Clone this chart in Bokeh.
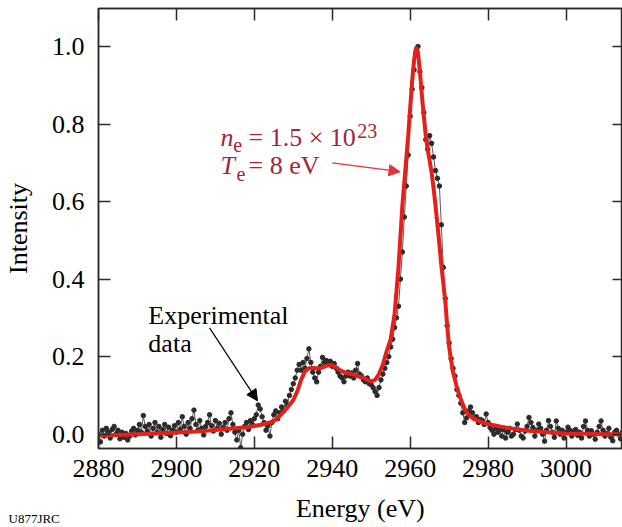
from bokeh.plotting import figure
from bokeh.models import (Range1d, LinearAxis, FixedTicker, Label, Arrow,
                          NormalHead, ColumnDataSource, PrintfTickFormatter)
from bokeh.embed import file_html
from bokeh.resources import INLINE

# ---------------- data ----------------
exp_energy = [
    2880.0, 2880.5, 2881.0, 2881.5, 2882.0, 2882.5, 2883.0, 2883.5, 2884.0, 2884.5,
    2885.0, 2885.5, 2886.0, 2886.5, 2887.0, 2887.5, 2888.0, 2888.5, 2889.0, 2889.5,
    2890.0, 2890.5, 2891.0, 2891.5, 2892.0, 2892.5, 2893.0, 2893.5, 2894.0, 2894.5,
    2895.0, 2895.5, 2896.0, 2896.5, 2897.0, 2897.5, 2898.0, 2898.5, 2899.0, 2899.5,
    2900.0, 2900.5, 2901.0, 2901.5, 2902.0, 2902.5, 2903.0, 2903.5, 2904.0, 2904.5,
    2905.0, 2905.5, 2906.0, 2906.5, 2907.0, 2907.5, 2908.0, 2908.5, 2909.0, 2909.5,
    2910.0, 2910.5, 2911.0, 2911.5, 2912.0, 2912.5, 2913.0, 2913.5, 2914.0, 2914.5,
    2915.0, 2915.5, 2916.0, 2916.5, 2917.0, 2917.5, 2918.0, 2918.5, 2919.0, 2919.5,
    2920.0, 2920.5, 2921.0, 2921.5, 2922.0, 2922.5, 2923.0, 2923.5, 2924.0, 2924.5,
    2925.0, 2925.5, 2926.0, 2926.5, 2927.0, 2927.5, 2928.0, 2928.5, 2929.0, 2929.5,
    2930.0, 2930.5, 2931.0, 2931.5, 2932.0, 2932.5, 2933.0, 2933.5, 2934.0, 2934.5,
    2935.0, 2935.5, 2936.0, 2936.5, 2937.0, 2937.5, 2938.0, 2938.5, 2939.0, 2939.5,
    2940.0, 2940.5, 2941.0, 2941.5, 2942.0, 2942.5, 2943.0, 2943.5, 2944.0, 2944.5,
    2945.0, 2945.5, 2946.0, 2946.5, 2947.0, 2947.5, 2948.0, 2948.5, 2949.0, 2949.5,
    2950.0, 2950.5, 2951.0, 2951.5, 2952.0, 2952.5, 2953.0, 2953.5, 2954.0, 2954.5,
    2955.0, 2955.5, 2956.0, 2956.5, 2957.0, 2957.5, 2958.0, 2958.5, 2959.0, 2959.5,
    2960.0, 2960.5, 2961.0, 2961.5, 2962.0, 2962.5, 2963.0, 2963.5, 2964.0, 2964.5,
    2965.0, 2965.5, 2966.0, 2966.5, 2967.0, 2967.5, 2968.0, 2968.5, 2969.0, 2969.5,
    2970.0, 2970.5, 2971.0, 2971.5, 2972.0, 2972.5, 2973.0, 2973.5, 2974.0, 2974.5,
    2975.0, 2975.5, 2976.0, 2976.5, 2977.0, 2977.5, 2978.0, 2978.5, 2979.0, 2979.5,
    2980.0, 2980.5, 2981.0, 2981.5, 2982.0, 2982.5, 2983.0, 2983.5, 2984.0, 2984.5,
    2985.0, 2985.5, 2986.0, 2986.5, 2987.0, 2987.5, 2988.0, 2988.5, 2989.0, 2989.5,
    2990.0, 2990.5, 2991.0, 2991.5, 2992.0, 2992.5, 2993.0, 2993.5, 2994.0, 2994.5,
    2995.0, 2995.5, 2996.0, 2996.5, 2997.0, 2997.5, 2998.0, 2998.5, 2999.0, 2999.5,
    3000.0, 3000.5, 3001.0, 3001.5, 3002.0, 3002.5, 3003.0, 3003.5, 3004.0, 3004.5,
    3005.0, 3005.5, 3006.0, 3006.5, 3007.0, 3007.5, 3008.0, 3008.5, 3009.0, 3009.5,
    3010.0, 3010.5, 3011.0, 3011.5, 3012.0, 3012.5, 3013.0, 3013.5, 3014.0, 3014.5,
]
exp_intensity = [
    0.000, -0.020, 0.010, -0.005, 0.015, 0.005, -0.010, 0.012, 0.020, 0.000,
    0.010, -0.012, 0.005, -0.008, 0.002, -0.015, -0.005, 0.008, 0.015, -0.002,
    0.010, 0.025, 0.005, 0.048, 0.020, 0.008, 0.025, -0.005, 0.015, 0.030,
    0.005, 0.020, -0.008, 0.012, 0.025, 0.002, 0.018, -0.004, 0.010, 0.022,
    0.005, 0.030, 0.012, 0.045, 0.020, 0.000, 0.030, 0.015, 0.040, 0.062,
    0.025, 0.010, 0.035, 0.015, -0.002, 0.020, 0.030, 0.050, 0.022, 0.008,
    0.035, 0.015, 0.028, 0.000, 0.018, 0.030, 0.010, 0.040, 0.055, 0.025,
    0.005, -0.015, 0.010, -0.035, 0.000, 0.020, 0.030, 0.012, 0.035, 0.025,
    0.040, 0.050, 0.075, 0.065, 0.045, 0.030, 0.010, 0.022, -0.005, 0.030,
    0.050, 0.060, 0.040, 0.055, 0.070, 0.060, 0.085, 0.075, 0.100, 0.115,
    0.130, 0.145, 0.165, 0.180, 0.165, 0.185, 0.170, 0.195, 0.220, 0.185,
    0.160, 0.145, 0.135, 0.160, 0.175, 0.198, 0.185, 0.190, 0.180, 0.188,
    0.175, 0.182, 0.170, 0.160, 0.150, 0.145, 0.135, 0.150, 0.160, 0.150,
    0.158, 0.145, 0.165, 0.182, 0.155, 0.150, 0.140, 0.135, 0.145, 0.130,
    0.128, 0.120, 0.110, 0.100, 0.120, 0.140, 0.155, 0.170, 0.185, 0.200,
    0.225, 0.245, 0.275, 0.300, 0.330, 0.400, 0.470, 0.560, 0.640, 0.720,
    0.820, 0.890, 0.940, 0.985, 1.000, 0.935, 0.894, 0.830, 0.760, 0.735,
    0.770, 0.750, 0.715, 0.680, 0.660, 0.640, 0.540, 0.430, 0.350, 0.280,
    0.235, 0.195, 0.170, 0.150, 0.115, 0.100, 0.080, 0.055, 0.030, 0.042,
    0.060, 0.070, 0.055, 0.040, 0.045, 0.030, 0.038, 0.035, 0.025, 0.052,
    0.030, 0.017, 0.010, 0.000, 0.015, 0.005, 0.010, -0.005, 0.012, -0.010,
    0.005, 0.015, -0.005, 0.000, 0.012, 0.026, 0.010, -0.005, -0.010, 0.008,
    0.020, 0.043, 0.030, 0.017, -0.005, 0.010, 0.026, 0.015, 0.000, -0.018,
    0.010, 0.035, 0.020, 0.005, -0.008, 0.034, 0.015, 0.000, 0.010, -0.010,
    0.005, 0.018, 0.010, -0.005, 0.008, 0.012, -0.003, 0.005, -0.010, 0.020,
    0.034, 0.010, -0.005, 0.009, 0.000, -0.013, 0.005, 0.020, 0.034, 0.010,
    -0.005, 0.002, 0.015, -0.008, -0.017, 0.005, 0.010, 0.000, -0.012, 0.005,
]

fit_energy = [
    2880, 2885, 2890, 2895, 2900, 2905, 2910, 2915, 2918, 2920,
    2922, 2924, 2925, 2926, 2927, 2928, 2929, 2930, 2931, 2932,
    2933, 2934, 2935, 2936, 2937, 2938, 2939, 2940, 2941, 2942,
    2943, 2944, 2945, 2946, 2947, 2948, 2949, 2950, 2951, 2952,
    2953, 2954, 2955, 2956, 2957, 2957.5, 2958, 2958.5, 2959, 2959.5,
    2960, 2960.5, 2961, 2961.5, 2962, 2962.5, 2963, 2963.5, 2964, 2964.5,
    2965, 2965.5, 2966, 2966.5, 2967, 2967.5, 2968, 2968.5, 2969, 2969.5,
    2970, 2970.5, 2971, 2972, 2973, 2974, 2975, 2976, 2978, 2980,
    2983, 2987, 2991, 2996, 3000, 3005, 3010, 3015,
]
fit_intensity = [
    -0.003, -0.002, 0.000, 0.002, 0.004, 0.007, 0.011, 0.015, 0.018, 0.021,
    0.025, 0.030, 0.034, 0.042, 0.052, 0.063, 0.075, 0.088, 0.110, 0.140,
    0.162, 0.170, 0.171, 0.170, 0.170, 0.174, 0.178, 0.178, 0.172, 0.165,
    0.160, 0.157, 0.155, 0.152, 0.148, 0.145, 0.140, 0.136, 0.140, 0.155,
    0.180, 0.215, 0.245, 0.310, 0.430, 0.510, 0.590, 0.650, 0.710, 0.770,
    0.840, 0.910, 0.965, 0.998, 0.985, 0.935, 0.875, 0.820, 0.770, 0.735,
    0.705, 0.675, 0.635, 0.590, 0.540, 0.490, 0.435, 0.390, 0.345, 0.280,
    0.225, 0.190, 0.160, 0.120, 0.090, 0.065, 0.050, 0.042, 0.032, 0.026,
    0.020, 0.013, 0.008, 0.004, 0.002, 0.001, 0.000, 0.000,
]

x_ticks = [2880, 2900, 2920, 2940, 2960, 2980, 3000]
y_ticks = [0.0, 0.2, 0.4, 0.6, 0.8, 1.0]

FONT = "Liberation Serif"
AX = "#2a2a2a"
TXT_RED = "#a3263a"
ARROW_RED = "#e4323a"

# ---------------- figure ----------------
p = figure(width=622, height=527, output_backend="svg", toolbar_location=None,
           x_range=Range1d(2880, 3014.5), y_range=Range1d(-0.037, 1.098),
           min_border_left=98, min_border_right=0, min_border_top=8,
           min_border_bottom=79, y_axis_label="Intensity")
p.grid.visible = False
p.outline_line_color = AX
p.outline_line_width = 1.5
p.background_fill_color = "white"
p.border_fill_color = "white"


def style_axis(ax, ticks, fmt, show_labels=True):
    ax.ticker = FixedTicker(ticks=ticks)
    ax.formatter = PrintfTickFormatter(format=fmt)
    ax.major_tick_in = 12
    ax.major_tick_out = 0
    ax.minor_tick_line_color = None
    ax.major_tick_line_color = AX
    ax.major_tick_line_width = 1.5
    ax.axis_line_color = AX
    ax.axis_line_width = 1.5
    ax.major_label_text_font = FONT
    ax.major_label_text_color = "black"
    if show_labels:
        ax.major_label_text_font_size = "26px"
    else:
        ax.major_label_text_font_size = "0px"
        ax.major_label_text_color = None
        ax.major_label_standoff = 0
    ax.axis_label_text_font = FONT
    ax.axis_label_text_font_size = "26px"
    ax.axis_label_text_font_style = "normal"
    ax.axis_label_text_color = "black"


style_axis(p.xaxis[0], x_ticks, "%d")
style_axis(p.yaxis[0], y_ticks, "%.1f")
p.xaxis[0].major_label_standoff = 11
p.yaxis[0].major_label_standoff = 14
p.yaxis[0].axis_label_standoff = 16

top_ax = LinearAxis()
style_axis(top_ax, x_ticks, "%d", show_labels=False)
p.add_layout(top_ax, "above")
right_ax = LinearAxis()
style_axis(right_ax, y_ticks, "%.1f", show_labels=False)
right_ax.major_tick_in = 10
p.add_layout(right_ax, "right")

# ---------------- data ----------------
src = ColumnDataSource(dict(e=exp_energy, i=exp_intensity))
p.line("e", "i", source=src, line_color="#5a5a5a", line_width=1)
p.scatter("e", "i", source=src, size=4.5, fill_color="#2b2b2b",
          line_color="#2b2b2b")
p.line(fit_energy, fit_intensity, line_color="#e3201b", line_width=4)

# ---------------- annotations ----------------
def lab(x, y, text, color="black", size="26px", style="normal",
        baseline="alphabetic", align="left", place=None):
    lb = Label(x=x, y=y, text=text, text_font=FONT, text_font_size=size,
               text_color=color, text_font_style=style, text_baseline=baseline,
               text_align=align)
    if place is None:
        p.add_layout(lb)
    else:
        p.add_layout(lb, place)

lab(2892.8, 0.305, "Experimental")
lab(2892.8, 0.233, "data")
p.add_layout(Arrow(end=NormalHead(size=11, fill_color="black", line_color="black"),
                   x_start=2908.5, y_start=0.274, x_end=2920.8, y_end=0.086,
                   line_color="black", line_width=1.2))

lab(2911.3, 0.765, "n", color=TXT_RED, style="italic")
lab(2914.6, 0.745, "e", color=TXT_RED, size="20px")
lab(2918.5, 0.765, "= 1.5 × 10", color=TXT_RED)
lab(2946.4, 0.782, "23", color=TXT_RED, size="20px")
lab(2911.3, 0.692, "T", color=TXT_RED, style="italic")
lab(2915.4, 0.672, "e", color=TXT_RED, size="20px")
lab(2918.5, 0.692, "= 8 eV", color=TXT_RED)
p.add_layout(Arrow(end=NormalHead(size=11, fill_color=ARROW_RED, line_color=ARROW_RED),
                   x_start=2940.0, y_start=0.700, x_end=2957.4, y_end=0.677,
                   line_color=ARROW_RED, line_width=1.3))

# x-axis title and figure ID, in the panel below the frame (not clipped)
lab(2947.2, -0.155, "Energy (eV)", align="center", baseline="top", place="below")
lab(2856.9, -0.198, "U877JRC", size="13px", baseline="top", place="below")

open("out.html", "w").write(file_html(p, INLINE))
